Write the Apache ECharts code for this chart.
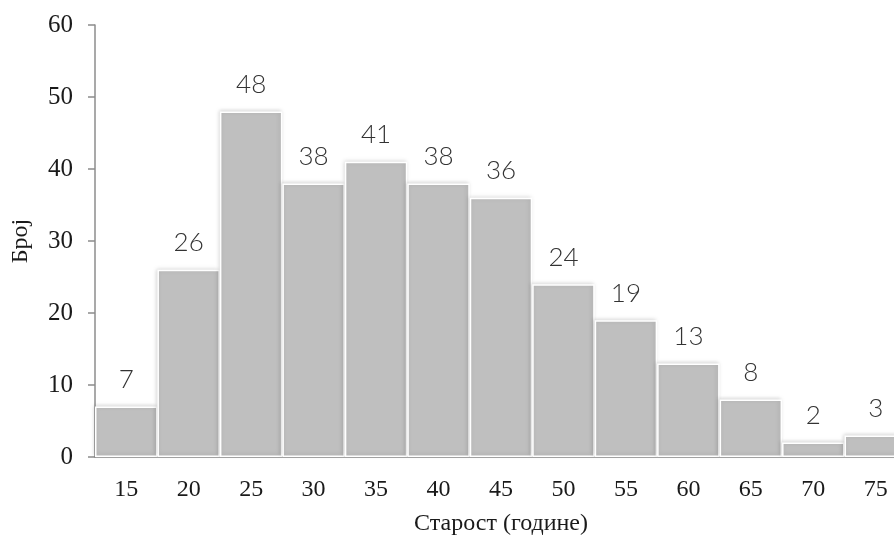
<!DOCTYPE html>
<html>
<head>
<meta charset="utf-8">
<script src="https://cdn.jsdelivr.net/npm/echarts@6/dist/echarts.min.js"></script>
<style>html,body{margin:0;padding:0;background:#fff}#c{width:894px;height:539px}</style>
</head>
<body>
<div id="c"></div>
<script>
const categories = ['15','20','25','30','35','40','45','50','55','60','65','70','75'];
const counts = [7,26,48,38,41,38,36,24,19,13,8,2,3];
const yTicks = [0,10,20,30,40,50,60];
const xName = 'Старост (године)';
const yName = 'Број';

const chart = echarts.init(document.getElementById('c'));
chart.setOption({
  animation: false,
  grid: {left: 95, width: 812, top: 25, height: 432, containLabel: false, outerBoundsMode: 'none'},
  xAxis: {
    type: 'category',
    data: categories,
    name: xName,
    nameLocation: 'middle',
    nameGap: 55,
    nameTextStyle: {fontFamily: 'Liberation Serif', fontSize: 24, color: '#1a1a1a'},
    axisLine: {lineStyle: {color: '#8c8c8c', width: 1.5}},
    axisTick: {show: false},
    axisLabel: {fontFamily: 'Liberation Serif', fontSize: 24, color: '#1a1a1a', margin: 21}
  },
  yAxis: {
    type: 'value',
    min: yTicks[0], max: yTicks[yTicks.length-1], interval: 10,
    name: yName,
    nameLocation: 'middle',
    nameGap: 62,
    nameTextStyle: {fontFamily: 'Liberation Serif', fontSize: 24, color: '#1a1a1a'},
    axisLine: {show: true, lineStyle: {color: '#8c8c8c', width: 1.5}},
    axisTick: {show: true, length: 7, lineStyle: {color: '#8c8c8c', width: 1.5}},
    splitLine: {show: false},
    axisLabel: {fontFamily: 'Liberation Serif', fontSize: 25, color: '#1a1a1a', margin: 22}
  },
  series: [{
    type: 'bar',
    data: counts,
    barCategoryGap: '0%',
    itemStyle: {
      color: '#bfbfbf',
      borderColor: '#ffffff',
      borderWidth: 1.5,
      shadowBlur: 4,
      shadowColor: 'rgba(0,0,0,0.15)',
      shadowOffsetX: -1,
      shadowOffsetY: -1
    },
    label: {
      show: true,
      position: 'top',
      distance: 14,
      fontFamily: 'Lato',
      fontWeight: 300,
      fontSize: 26,
      color: '#333'
    }
  }]
});
</script>
</body>
</html>
